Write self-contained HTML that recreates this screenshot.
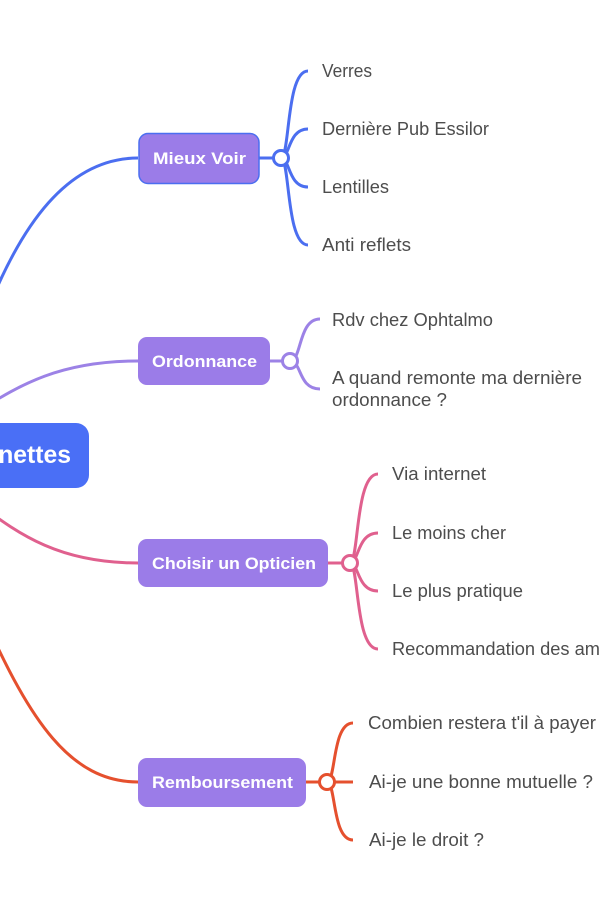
<!DOCTYPE html>
<html>
<head>
<meta charset="utf-8">
<style>
html,body{margin:0;padding:0;background:#fff;}
svg{display:block;}
.t{font-family:"Liberation Sans",Arial,sans-serif;font-size:18px;fill:#4d4d4d;}
.n{font-family:"Liberation Sans",Arial,sans-serif;font-size:17px;font-weight:bold;fill:#fff;}
</style>
</head>
<body>
<svg width="600" height="900" viewBox="0 0 600 900" xmlns="http://www.w3.org/2000/svg">
  <rect width="600" height="900" fill="#fff"/>

  <!-- main connectors -->
  <path d="M -20 330 C 20 220, 70 158, 138 158" fill="none" stroke="#4B6EF0" stroke-width="3"/>
  <path d="M -20 410 C 20 385, 60 361, 138 361" fill="none" stroke="#9C82E6" stroke-width="3"/>
  <path d="M -20 505 C 20 535, 60 563, 138 563" fill="none" stroke="#E0608E" stroke-width="3"/>
  <path d="M -15 620 C 30 720, 70 782, 138 782" fill="none" stroke="#E5502E" stroke-width="3"/>

  <!-- central node -->
  <rect x="-70" y="423" width="159" height="65" rx="13" fill="#4A6FF6"/>
  <text x="-32" y="463" textLength="103" lengthAdjust="spacingAndGlyphs" font-family="Liberation Sans, Arial, sans-serif" font-size="25" font-weight="bold" fill="#fff">Lunettes</text>

  <!-- Mieux Voir -->
  <g stroke="#4B6EF0" stroke-width="3" fill="none">
    <line x1="259" y1="158" x2="281" y2="158"/>
    <path d="M 281 158 C 290 158, 286 71, 308 71"/>
    <path d="M 281 158 C 290 158, 288 129, 308 129"/>
    <path d="M 281 158 C 290 158, 288 187, 308 187"/>
    <path d="M 281 158 C 290 158, 286 245, 308 245"/>
  </g>
  <rect x="139" y="133.5" width="120" height="50" rx="9" fill="#9B7CE8" stroke="#4B6EF0" stroke-width="1.5"/>
  <text class="n" x="153" y="164" textLength="93" lengthAdjust="spacingAndGlyphs">Mieux Voir</text>
  <circle cx="281" cy="158" r="7.5" fill="#fff" stroke="#4B6EF0" stroke-width="3"/>
  <text class="t" x="322" y="77" textLength="50" lengthAdjust="spacingAndGlyphs">Verres</text>
  <text class="t" x="322" y="135" textLength="167" lengthAdjust="spacingAndGlyphs">Dernière Pub Essilor</text>
  <text class="t" x="322" y="193" textLength="67" lengthAdjust="spacingAndGlyphs">Lentilles</text>
  <text class="t" x="322" y="251" textLength="89" lengthAdjust="spacingAndGlyphs">Anti reflets</text>

  <!-- Ordonnance -->
  <g stroke="#9C82E6" stroke-width="3" fill="none">
    <line x1="270" y1="361" x2="290" y2="361"/>
    <path d="M 290 361 C 302 361, 298 319, 320 319"/>
    <path d="M 290 361 C 302 361, 298 389, 320 389"/>
  </g>
  <rect x="138" y="337" width="132" height="48" rx="9" fill="#9B7CE8"/>
  <text class="n" x="152" y="367" textLength="105" lengthAdjust="spacingAndGlyphs">Ordonnance</text>
  <circle cx="290" cy="361" r="7.5" fill="#fff" stroke="#9C82E6" stroke-width="3"/>
  <text class="t" x="332" y="326" textLength="161" lengthAdjust="spacingAndGlyphs">Rdv chez Ophtalmo</text>
  <text class="t" x="332" y="384" textLength="250" lengthAdjust="spacingAndGlyphs">A quand remonte ma dernière</text>
  <text class="t" x="332" y="406" textLength="115" lengthAdjust="spacingAndGlyphs">ordonnance ?</text>

  <!-- Choisir un Opticien -->
  <g stroke="#E0608E" stroke-width="3" fill="none">
    <line x1="328" y1="563" x2="350" y2="563"/>
    <path d="M 350 563 C 359 563, 355 474, 378 474"/>
    <path d="M 350 563 C 359 563, 357 533, 378 533"/>
    <path d="M 350 563 C 359 563, 357 591, 378 591"/>
    <path d="M 350 563 C 359 563, 355 649, 378 649"/>
  </g>
  <rect x="138" y="539" width="190" height="48" rx="9" fill="#9B7CE8"/>
  <text class="n" x="152" y="569" textLength="164" lengthAdjust="spacingAndGlyphs">Choisir un Opticien</text>
  <circle cx="350" cy="563" r="7.5" fill="#fff" stroke="#E0608E" stroke-width="3"/>
  <text class="t" x="392" y="480" textLength="94" lengthAdjust="spacingAndGlyphs">Via internet</text>
  <text class="t" x="392" y="539" textLength="114" lengthAdjust="spacingAndGlyphs">Le moins cher</text>
  <text class="t" x="392" y="597" textLength="131" lengthAdjust="spacingAndGlyphs">Le plus pratique</text>
  <text class="t" x="392" y="655" textLength="208" lengthAdjust="spacingAndGlyphs">Recommandation des am</text>

  <!-- Remboursement -->
  <g stroke="#E5502E" stroke-width="3" fill="none">
    <line x1="306" y1="782" x2="353" y2="782"/>
    <path d="M 327 782 C 336 782, 332 723, 353 723"/>
    <path d="M 327 782 C 336 782, 332 840, 353 840"/>
  </g>
  <rect x="138" y="758" width="168" height="49" rx="9" fill="#9B7CE8"/>
  <text class="n" x="152" y="788" textLength="141" lengthAdjust="spacingAndGlyphs">Remboursement</text>
  <circle cx="327" cy="782" r="7.5" fill="#fff" stroke="#E5502E" stroke-width="3"/>
  <text class="t" x="368" y="729" textLength="228" lengthAdjust="spacingAndGlyphs">Combien restera t'il à payer</text>
  <text class="t" x="369" y="788" textLength="224" lengthAdjust="spacingAndGlyphs">Ai-je une bonne mutuelle ?</text>
  <text class="t" x="369" y="846" textLength="115" lengthAdjust="spacingAndGlyphs">Ai-je le droit ?</text>
</svg>
</body>
</html>
